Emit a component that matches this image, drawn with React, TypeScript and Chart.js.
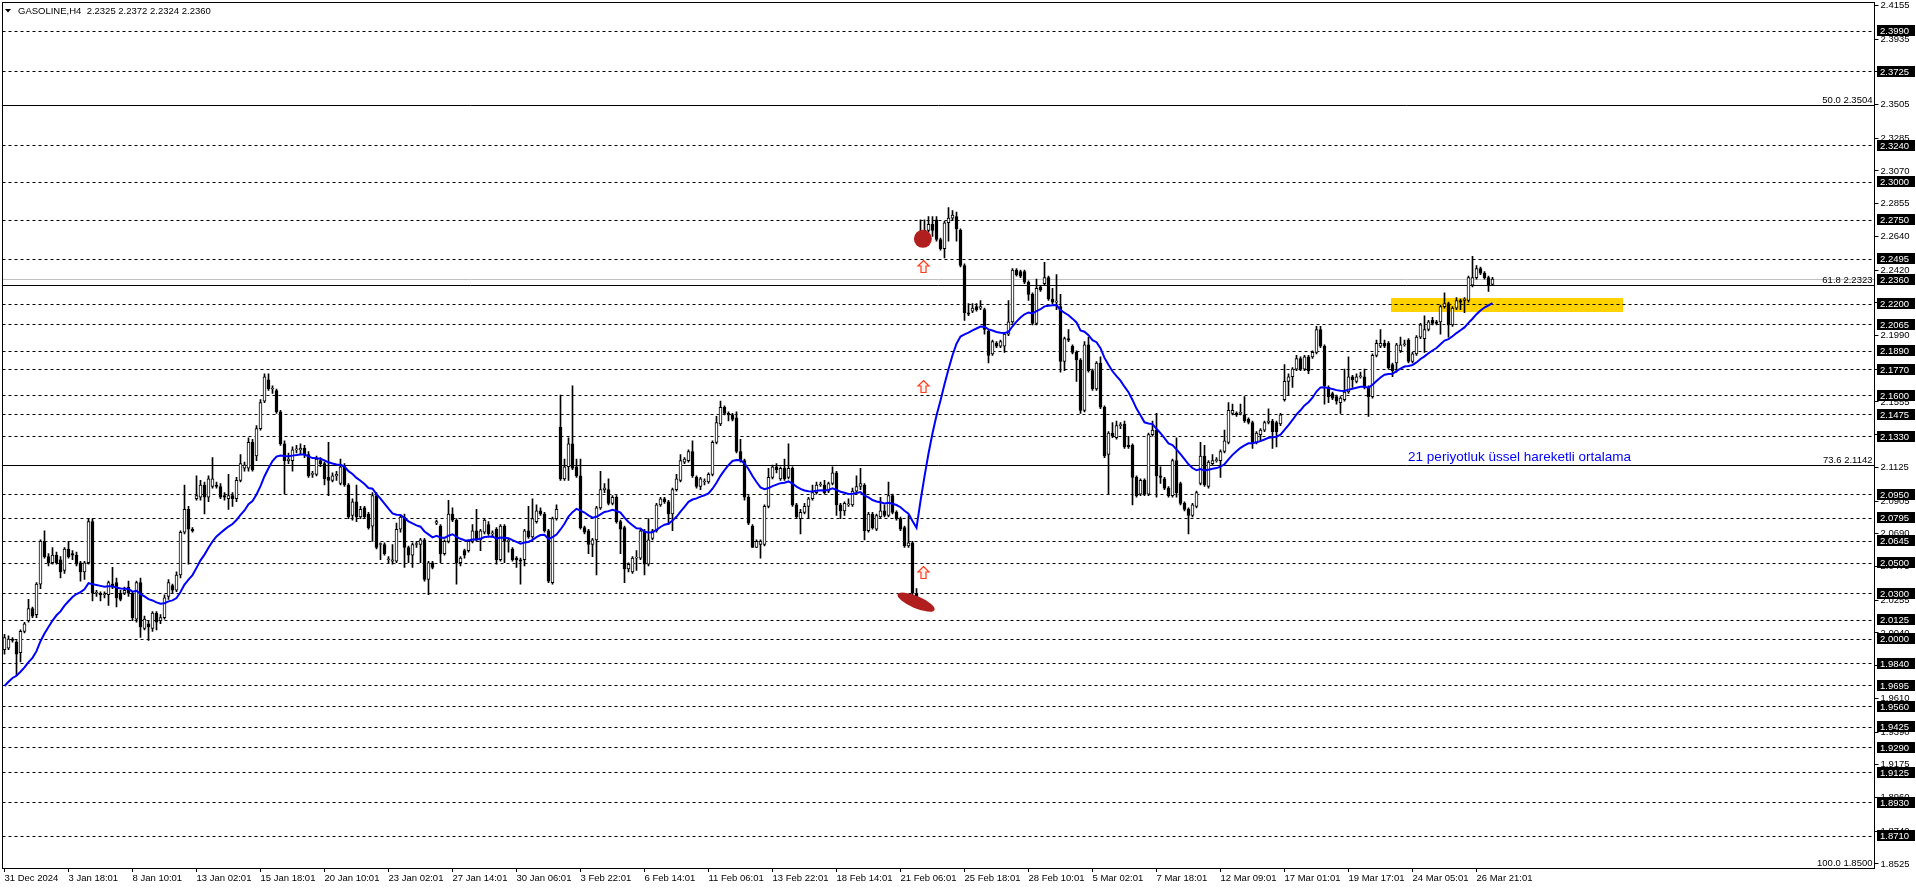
import { useEffect, useRef } from 'react';
import { Chart, registerables } from 'chart.js';

Chart.register(...registerables);

const SYMBOL_TITLE = 'GASOLINE,H4  2.2325 2.2372 2.2324 2.2360';

const OPEN = [
  1.993,1.994,2.000,1.998,1.991,2.005,2.012,2.020,2.016,2.036,
  2.064,2.054,2.050,2.055,2.052,2.045,2.059,2.056,2.055,2.050,
  2.044,2.050,2.077,2.030,2.030,2.029,2.029,2.036,2.037,2.030,
  2.030,2.034,2.030,2.013,2.037,2.007,2.010,2.007,2.017,2.012,
  2.014,2.028,2.035,2.032,2.042,2.070,2.085,2.072,2.092,2.093,
  2.101,2.093,2.100,2.101,2.100,2.094,2.092,2.094,2.092,2.104,
  2.112,2.112,2.129,2.120,2.138,2.156,2.170,2.164,2.163,2.149,
  2.128,2.117,2.117,2.124,2.124,2.125,2.121,2.108,2.108,2.117,
  2.115,2.106,2.104,2.107,2.102,2.113,2.101,2.081,2.090,2.080,
  2.086,2.082,2.074,2.094,2.062,2.062,2.052,2.051,2.051,2.072,
  2.080,2.060,2.055,2.062,2.062,2.065,2.039,2.050,2.076,2.074,
  2.056,2.064,2.082,2.078,2.050,2.058,2.058,2.064,2.071,2.065,
  2.070,2.075,2.069,2.072,2.052,2.074,2.064,2.059,2.053,2.052,
  2.052,2.071,2.067,2.077,2.084,2.082,2.071,2.037,2.079,2.139,
  2.105,2.113,2.128,2.113,2.107,2.073,2.071,2.062,2.065,2.086,
  2.098,2.098,2.089,2.093,2.077,2.073,2.046,2.044,2.053,2.053,
  2.071,2.049,2.066,2.071,2.088,2.092,2.090,2.082,2.098,2.104,
  2.116,2.117,2.123,2.106,2.100,2.103,2.103,2.108,2.129,2.141,
  2.152,2.148,2.147,2.145,2.123,2.117,2.093,2.074,2.060,2.062,
  2.062,2.087,2.106,2.113,2.105,2.112,2.106,2.112,2.088,2.079,
  2.083,2.087,2.092,2.096,2.101,2.101,2.097,2.102,2.109,2.088,
  2.084,2.088,2.088,2.097,2.100,2.101,2.071,2.082,2.072,2.080,
  2.084,2.081,2.094,2.083,2.079,2.073,2.061,2.063,2.030,2.264,
  2.263,2.268,2.272,2.275,2.262,2.256,2.273,2.276,2.277,2.268,
  2.245,2.214,2.215,2.218,2.217,2.216,2.202,2.187,2.194,2.192,
  2.192,2.200,2.208,2.242,2.241,2.241,2.234,2.226,2.207,2.231,
  2.233,2.237,2.223,2.221,2.218,2.182,2.197,2.192,2.188,2.183,
  2.150,2.193,2.176,2.164,2.181,2.152,2.121,2.135,2.132,2.140,
  2.141,2.127,2.127,2.106,2.095,2.104,2.095,2.134,2.137,2.107,
  2.105,2.099,2.094,2.117,2.102,2.089,2.085,2.081,2.087,2.102,
  2.120,2.100,2.115,2.117,2.117,2.123,2.129,2.148,2.148,2.148,
  2.147,2.144,2.142,2.129,2.134,2.137,2.142,2.143,2.142,2.141,
  2.157,2.169,2.172,2.177,2.184,2.177,2.185,2.185,2.188,2.203,
  2.192,2.165,2.161,2.159,2.155,2.157,2.162,2.172,2.169,2.172,
  2.172,2.165,2.159,2.186,2.192,2.194,2.194,2.180,2.181,2.189,
  2.193,2.196,2.182,2.187,2.198,2.197,2.203,2.209,2.208,2.208,
  2.218,2.220,2.206,2.217,2.222,2.222,2.222,2.232,2.237,2.243,
  2.240,2.237,2.2325,
];

const HIGH = [
  2.003,2.002,2.001,1.999,2.006,2.011,2.026,2.021,2.037,2.065,
  2.071,2.056,2.060,2.057,2.054,2.060,2.064,2.058,2.057,2.051,
  2.051,2.079,2.079,2.032,2.031,2.031,2.038,2.047,2.040,2.032,
  2.034,2.038,2.031,2.038,2.040,2.015,2.012,2.018,2.018,2.016,
  2.029,2.039,2.036,2.044,2.071,2.101,2.087,2.073,2.107,2.104,
  2.103,2.107,2.119,2.103,2.102,2.096,2.108,2.096,2.106,2.121,
  2.116,2.132,2.131,2.140,2.157,2.174,2.174,2.166,2.164,2.150,
  2.130,2.122,2.126,2.127,2.128,2.127,2.123,2.110,2.120,2.119,
  2.116,2.129,2.109,2.110,2.118,2.115,2.102,2.092,2.101,2.087,
  2.087,2.083,2.096,2.096,2.063,2.063,2.054,2.062,2.076,2.081,
  2.082,2.061,2.063,2.064,2.066,2.066,2.051,2.051,2.078,2.075,
  2.065,2.091,2.086,2.079,2.054,2.059,2.065,2.075,2.085,2.072,
  2.079,2.077,2.071,2.073,2.075,2.075,2.066,2.060,2.054,2.053,
  2.072,2.087,2.092,2.088,2.086,2.083,2.072,2.080,2.088,2.160,
  2.118,2.132,2.166,2.118,2.118,2.074,2.072,2.066,2.087,2.110,
  2.102,2.105,2.094,2.094,2.078,2.074,2.050,2.054,2.058,2.072,
  2.072,2.079,2.072,2.089,2.093,2.093,2.091,2.099,2.108,2.121,
  2.119,2.124,2.130,2.107,2.106,2.105,2.109,2.130,2.146,2.156,
  2.153,2.149,2.148,2.149,2.131,2.118,2.094,2.075,2.065,2.065,
  2.088,2.112,2.114,2.115,2.113,2.118,2.128,2.113,2.089,2.085,
  2.089,2.093,2.101,2.103,2.103,2.104,2.103,2.113,2.110,2.089,
  2.090,2.092,2.099,2.107,2.112,2.102,2.083,2.083,2.082,2.093,
  2.088,2.103,2.095,2.084,2.080,2.074,2.081,2.064,2.033,2.275,
  2.275,2.277,2.277,2.277,2.263,2.274,2.283,2.281,2.280,2.269,
  2.246,2.220,2.220,2.220,2.222,2.217,2.203,2.196,2.195,2.196,
  2.201,2.222,2.243,2.243,2.242,2.242,2.235,2.227,2.236,2.232,
  2.247,2.238,2.230,2.239,2.226,2.198,2.203,2.193,2.189,2.184,
  2.195,2.198,2.177,2.182,2.185,2.153,2.136,2.142,2.143,2.142,
  2.143,2.133,2.128,2.107,2.105,2.105,2.135,2.143,2.148,2.113,
  2.106,2.100,2.118,2.132,2.103,2.090,2.086,2.089,2.097,2.129,
  2.127,2.117,2.121,2.119,2.124,2.137,2.155,2.154,2.149,2.154,
  2.159,2.145,2.143,2.136,2.138,2.143,2.151,2.144,2.143,2.148,
  2.180,2.174,2.178,2.186,2.185,2.186,2.186,2.189,2.205,2.205,
  2.193,2.166,2.162,2.160,2.159,2.177,2.185,2.173,2.174,2.175,
  2.177,2.166,2.187,2.196,2.203,2.196,2.195,2.181,2.194,2.198,
  2.196,2.197,2.188,2.199,2.207,2.212,2.209,2.211,2.209,2.219,
  2.227,2.221,2.218,2.224,2.223,2.224,2.238,2.251,2.245,2.244,
  2.241,2.238,2.2372,
];

const LOW = [
  1.990,1.993,1.998,1.976,1.985,2.004,2.011,2.014,2.014,2.033,
  2.053,2.048,2.049,2.049,2.040,2.043,2.053,2.052,2.048,2.038,
  2.039,2.049,2.025,2.028,2.025,2.027,2.022,2.033,2.021,2.025,
  2.029,2.028,2.012,2.011,2.001,2.006,1.999,2.005,2.006,2.010,
  2.013,2.026,2.030,2.031,2.040,2.069,2.049,2.070,2.091,2.091,
  2.082,2.090,2.099,2.099,2.092,2.091,2.085,2.087,2.090,2.103,
  2.110,2.110,2.110,2.117,2.137,2.155,2.163,2.161,2.148,2.127,
  2.095,2.115,2.110,2.122,2.121,2.119,2.106,2.106,2.107,2.113,
  2.101,2.094,2.103,2.104,2.101,2.100,2.079,2.078,2.077,2.079,
  2.079,2.072,2.064,2.059,2.052,2.055,2.050,2.049,2.050,2.070,
  2.047,2.050,2.047,2.060,2.050,2.038,2.029,2.046,2.075,2.050,
  2.055,2.063,2.077,2.036,2.048,2.053,2.057,2.063,2.064,2.058,
  2.069,2.068,2.067,2.049,2.051,2.050,2.057,2.051,2.047,2.036,
  2.048,2.066,2.066,2.076,2.081,2.070,2.037,2.036,2.078,2.104,
  2.104,2.104,2.111,2.106,2.072,2.069,2.056,2.054,2.042,2.085,
  2.096,2.088,2.088,2.076,2.056,2.037,2.044,2.043,2.045,2.052,
  2.042,2.048,2.065,2.070,2.087,2.089,2.075,2.071,2.097,2.103,
  2.115,2.116,2.106,2.099,2.098,2.101,2.102,2.107,2.128,2.140,
  2.147,2.143,2.143,2.122,2.116,2.091,2.075,2.060,2.060,2.053,
  2.061,2.086,2.105,2.109,2.104,2.104,2.105,2.087,2.079,2.069,
  2.082,2.079,2.091,2.095,2.100,2.095,2.096,2.101,2.081,2.079,
  2.081,2.087,2.087,2.096,2.098,2.065,2.070,2.072,2.071,2.079,
  2.080,2.080,2.082,2.078,2.071,2.060,2.060,2.026,2.022,2.262,
  2.262,2.267,2.264,2.261,2.255,2.250,2.261,2.275,2.261,2.244,
  2.209,2.212,2.214,2.215,2.216,2.200,2.181,2.186,2.191,2.191,
  2.188,2.199,2.207,2.238,2.237,2.233,2.222,2.206,2.206,2.228,
  2.232,2.222,2.220,2.216,2.175,2.176,2.195,2.187,2.169,2.148,
  2.149,2.175,2.163,2.163,2.151,2.119,2.095,2.132,2.131,2.138,
  2.125,2.125,2.088,2.093,2.094,2.094,2.094,2.133,2.093,2.102,
  2.098,2.093,2.093,2.093,2.088,2.084,2.069,2.080,2.086,2.101,
  2.100,2.099,2.114,2.116,2.106,2.122,2.128,2.147,2.146,2.147,
  2.142,2.141,2.125,2.128,2.130,2.136,2.141,2.125,2.126,2.140,
  2.156,2.160,2.165,2.176,2.176,2.176,2.174,2.184,2.187,2.191,
  2.154,2.155,2.157,2.154,2.148,2.156,2.161,2.165,2.168,2.171,
  2.164,2.146,2.158,2.185,2.191,2.191,2.177,2.172,2.175,2.188,
  2.192,2.181,2.181,2.186,2.197,2.188,2.202,2.206,2.206,2.200,
  2.217,2.198,2.205,2.216,2.216,2.214,2.221,2.231,2.236,2.239,
  2.236,2.228,2.2324,
];

const CLOSE = [
  2.001,2.000,1.999,1.990,2.005,2.010,2.020,2.015,2.036,2.064,
  2.054,2.050,2.055,2.050,2.044,2.059,2.054,2.055,2.049,2.044,
  2.050,2.077,2.030,2.030,2.029,2.029,2.037,2.034,2.027,2.026,
  2.032,2.030,2.014,2.037,2.008,2.013,2.008,2.017,2.011,2.014,
  2.027,2.037,2.032,2.042,2.070,2.085,2.072,2.071,2.094,2.101,
  2.093,2.105,2.105,2.100,2.093,2.093,2.094,2.092,2.104,2.115,
  2.114,2.129,2.111,2.138,2.155,2.172,2.164,2.164,2.149,2.128,
  2.117,2.118,2.124,2.124,2.125,2.121,2.107,2.108,2.118,2.115,
  2.105,2.104,2.107,2.108,2.113,2.101,2.080,2.090,2.080,2.085,
  2.080,2.073,2.094,2.060,2.062,2.056,2.052,2.052,2.072,2.080,
  2.060,2.055,2.062,2.062,2.065,2.039,2.050,2.047,2.077,2.056,
  2.064,2.082,2.078,2.050,2.053,2.055,2.064,2.071,2.065,2.071,
  2.078,2.069,2.069,2.052,2.074,2.064,2.064,2.052,2.052,2.051,
  2.071,2.067,2.079,2.084,2.082,2.071,2.038,2.079,2.085,2.105,
  2.113,2.128,2.112,2.107,2.073,2.070,2.062,2.065,2.086,2.098,
  2.099,2.089,2.093,2.077,2.072,2.046,2.049,2.053,2.053,2.071,
  2.049,2.065,2.071,2.088,2.092,2.090,2.082,2.098,2.105,2.117,
  2.118,2.123,2.107,2.100,2.105,2.103,2.108,2.129,2.142,2.152,
  2.148,2.147,2.144,2.123,2.117,2.093,2.076,2.060,2.064,2.064,
  2.087,2.106,2.113,2.111,2.112,2.105,2.112,2.088,2.080,2.083,
  2.087,2.092,2.096,2.101,2.101,2.096,2.102,2.109,2.088,2.084,
  2.089,2.088,2.097,2.100,2.102,2.071,2.082,2.073,2.081,2.084,
  2.081,2.094,2.083,2.079,2.072,2.061,2.063,2.030,2.028,2.266,
  2.268,2.272,2.268,2.262,2.256,2.273,2.276,2.278,2.269,2.245,
  2.214,2.213,2.217,2.216,2.218,2.203,2.186,2.195,2.192,2.195,
  2.200,2.208,2.242,2.239,2.238,2.234,2.226,2.207,2.230,2.229,
  2.237,2.223,2.221,2.221,2.182,2.197,2.196,2.188,2.183,2.150,
  2.193,2.176,2.164,2.181,2.152,2.120,2.135,2.133,2.140,2.140,
  2.126,2.126,2.106,2.094,2.104,2.095,2.134,2.137,2.107,2.106,
  2.099,2.094,2.117,2.096,2.089,2.085,2.081,2.088,2.096,2.120,
  2.101,2.116,2.117,2.117,2.123,2.130,2.150,2.150,2.147,2.148,
  2.143,2.142,2.129,2.135,2.137,2.142,2.143,2.136,2.136,2.147,
  2.169,2.172,2.177,2.184,2.177,2.185,2.176,2.188,2.203,2.192,
  2.166,2.159,2.158,2.156,2.158,2.162,2.172,2.170,2.172,2.172,
  2.165,2.159,2.186,2.194,2.194,2.192,2.178,2.176,2.193,2.193,
  2.193,2.182,2.187,2.198,2.206,2.203,2.208,2.207,2.207,2.218,
  2.220,2.206,2.217,2.222,2.221,2.223,2.237,2.237,2.243,2.240,
  2.237,2.232,2.2360,
];

const TIME_LABELS = [
  '31 Dec 2024', '3 Jan 18:01', '8 Jan 10:01', '13 Jan 02:01', '15 Jan 18:01',
  '20 Jan 10:01', '23 Jan 02:01', '27 Jan 14:01', '30 Jan 06:01', '3 Feb 22:01',
  '6 Feb 14:01', '11 Feb 06:01', '13 Feb 22:01', '18 Feb 14:01', '21 Feb 06:01',
  '25 Feb 18:01', '28 Feb 10:01', '5 Mar 02:01', '7 Mar 18:01', '12 Mar 09:01',
  '17 Mar 01:01', '19 Mar 17:01', '24 Mar 05:01', '26 Mar 21:01',
];
const LABEL_EVERY = 16;

const PRICE_TICKS = [
  2.4155, 2.3935, 2.372, 2.3505, 2.3285, 2.307, 2.2855, 2.264, 2.242, 2.2205,
  2.199, 2.177, 2.1555, 2.134, 2.1125, 2.0905, 2.069, 2.0475, 2.0255, 2.004,
  1.9825, 1.961, 1.939, 1.9175, 1.896, 1.874, 1.8525,
];

const DASHED_LEVELS = [
  2.399, 2.3725, 2.324, 2.3, 2.275, 2.2495, 2.22, 2.2065, 2.189, 2.177,
  2.16, 2.1475, 2.133, 2.095, 2.0795, 2.0645, 2.05, 2.03, 2.0125, 2.0,
  1.984, 1.9695, 1.956, 1.9425, 1.929, 1.9125, 1.893, 1.871,
];
const BID_PRICE = 2.236;

const FIB_NAMES = ['50.0', '61.8', '73.6', '100.0'];
const FIB_PRICES = [2.3504, 2.2323, 2.1142, 1.85];

const EMA_PERIOD = 21;
const EMA_START = 1.966;
const EMA_NOTE = '21 periyotluk üssel hareketli ortalama';
const NOTE_BAR = 350.9;
const NOTE_PRICE = 2.1168;

const ZONE_BARS = [346.6, 404.6];
const ZONE_PRICES = [2.2235, 2.2147];

const ARROW_BAR = 229.6;
const ARROW_PRICES = [2.2444, 2.1659, 2.0439];
const DOT_BAR = 229.6;
const DOT_PRICE = 2.2625;
const BLOB_BAR = 227.9;
const BLOB_PRICE = 2.0242;

const Y_MIN = 1.8498;
const Y_MAX = 2.4178;
const SLOTS = 468;

const FONT = '"Liberation Sans", Arial, sans-serif';

function drawUpArrow(ctx: CanvasRenderingContext2D, cx: number, cy: number) {
  ctx.beginPath();
  ctx.moveTo(cx, cy - 6);
  ctx.lineTo(cx + 5.5, cy - 0.5);
  ctx.lineTo(cx + 2.5, cy - 0.5);
  ctx.lineTo(cx + 2.5, cy + 6);
  ctx.lineTo(cx - 2.5, cy + 6);
  ctx.lineTo(cx - 2.5, cy - 0.5);
  ctx.lineTo(cx - 5.5, cy - 0.5);
  ctx.closePath();
  ctx.fillStyle = '#fff2ea';
  ctx.fill();
  ctx.strokeStyle = '#ff3a1c';
  ctx.lineWidth = 1.2;
  ctx.stroke();
}

const mt4Plugin = {
  id: 'mt4Overlay',
  beforeDraw(chart: any) {
    const ctx = chart.ctx;
    ctx.save();
    ctx.fillStyle = '#ffffff';
    ctx.fillRect(0, 0, chart.width, chart.height);
    ctx.restore();
  },
  beforeDatasetsDraw(chart: any) {
    const { ctx, chartArea: a, scales } = chart;
    const x = scales.x;
    const y = scales.y;
    ctx.save();
    ctx.beginPath();
    ctx.rect(a.left, a.top, a.right - a.left, a.bottom - a.top);
    ctx.clip();

    // support zone rectangle
    const zx1 = Math.round(x.getPixelForValue(ZONE_BARS[0]));
    const zx2 = Math.round(x.getPixelForValue(ZONE_BARS[1]));
    const zy1 = Math.round(y.getPixelForValue(ZONE_PRICES[0]));
    const zy2 = Math.round(y.getPixelForValue(ZONE_PRICES[1]));
    ctx.fillStyle = '#ffd200';
    ctx.fillRect(zx1, zy1, zx2 - zx1, zy2 - zy1);

    // dashed horizontal levels
    ctx.strokeStyle = '#000';
    ctx.lineWidth = 1;
    ctx.setLineDash([3, 3]);
    for (const p of DASHED_LEVELS) {
      const py = Math.round(y.getPixelForValue(p)) + 0.5;
      ctx.beginPath();
      ctx.moveTo(a.left, py);
      ctx.lineTo(a.right, py);
      ctx.stroke();
    }
    ctx.setLineDash([]);

    // bid line
    const by = Math.round(y.getPixelForValue(BID_PRICE)) + 0.5;
    ctx.strokeStyle = '#c0c0c0';
    ctx.beginPath();
    ctx.moveTo(a.left, by);
    ctx.lineTo(a.right, by);
    ctx.stroke();

    // fibo lines
    ctx.strokeStyle = '#000';
    for (const p of FIB_PRICES) {
      const py = Math.round(y.getPixelForValue(p)) + 0.5;
      ctx.beginPath();
      ctx.moveTo(a.left, py);
      ctx.lineTo(a.right, py);
      ctx.stroke();
    }
    ctx.restore();
  },
  afterDatasetsDraw(chart: any) {
    const { ctx, chartArea: a, scales } = chart;
    const x = scales.x;
    const y = scales.y;
    ctx.save();
    ctx.beginPath();
    ctx.rect(a.left, a.top, a.right - a.left, a.bottom - a.top);
    ctx.clip();

    // red marks
    ctx.fillStyle = '#b01e1e';
    ctx.beginPath();
    ctx.ellipse(x.getPixelForValue(DOT_BAR), y.getPixelForValue(DOT_PRICE), 9, 9, 0, 0, Math.PI * 2);
    ctx.fill();
    ctx.beginPath();
    ctx.ellipse(x.getPixelForValue(BLOB_BAR), y.getPixelForValue(BLOB_PRICE), 20, 6, 0.4, 0, Math.PI * 2);
    ctx.fill();

    const ax = Math.round(x.getPixelForValue(ARROW_BAR)) + 0.5;
    for (const p of ARROW_PRICES) {
      drawUpArrow(ctx, ax, Math.round(y.getPixelForValue(p)) + 0.5);
    }

    // EMA note
    ctx.font = `13.5px ${FONT}`;
    ctx.fillStyle = '#0000ff';
    ctx.textAlign = 'left';
    ctx.textBaseline = 'alphabetic';
    ctx.fillText(EMA_NOTE, x.getPixelForValue(NOTE_BAR), y.getPixelForValue(NOTE_PRICE));

    // fibo labels
    ctx.font = `9.5px ${FONT}`;
    ctx.fillStyle = '#000';
    ctx.textAlign = 'right';
    for (let i = 0; i < FIB_PRICES.length; i++) {
      const py = Math.round(y.getPixelForValue(FIB_PRICES[i]));
      ctx.fillText(`${FIB_NAMES[i]} ${FIB_PRICES[i].toFixed(4)}`, a.right - 2, py - 2);
    }
    ctx.restore();
  },
  afterDraw(chart: any) {
    const { ctx, chartArea: a, scales } = chart;
    const y = scales.y;
    ctx.save();
    // frame
    ctx.strokeStyle = '#000';
    ctx.lineWidth = 1;
    ctx.strokeRect(Math.floor(a.left) + 0.5, Math.floor(a.top) + 0.5,
      Math.round(a.right - a.left), Math.round(a.bottom - a.top));

    // black price boxes
    ctx.font = `9.5px ${FONT}`;
    ctx.textAlign = 'left';
    ctx.textBaseline = 'middle';
    const boxes = [...DASHED_LEVELS, BID_PRICE];
    for (const p of boxes) {
      const py = y.getPixelForValue(p);
      const top = Math.round(py - 5.5);
      ctx.fillStyle = '#000';
      ctx.fillRect(Math.round(a.right) + 2, top, 38, 11);
      ctx.fillStyle = '#fff';
      ctx.fillText(p.toFixed(4), Math.round(a.right) + 5, top + 6);
    }

    // title
    ctx.fillStyle = '#000';
    ctx.beginPath();
    ctx.moveTo(5, 9);
    ctx.lineTo(11, 9);
    ctx.lineTo(8, 12.5);
    ctx.closePath();
    ctx.fill();
    ctx.textBaseline = 'alphabetic';
    ctx.fillText(SYMBOL_TITLE, 18, 13.5);
    ctx.restore();
  },
};

export default function App() {
  const canvasRef = useRef<HTMLCanvasElement>(null);

  useEffect(() => {
    const canvas = canvasRef.current;
    if (!canvas) return;
    const n = CLOSE.length;
    const labels = Array.from({ length: SLOTS }, (_, i) => i);
    const wicks = labels.map((i) => (i < n ? [LOW[i], HIGH[i]] : null));
    const bodies = labels.map((i) => (i < n ? [OPEN[i], CLOSE[i]] : null));
    const bodyFill = labels.map((i) => (i < n && CLOSE[i] < OPEN[i] ? '#000000' : '#ffffff'));

    const k = 2 / (EMA_PERIOD + 1);
    let prev = EMA_START;
    const ema: (number | null)[] = labels.map((i) => {
      if (i >= n) return null;
      prev = prev + k * (CLOSE[i] - prev);
      return prev;
    });

    const chart = new Chart(canvas, {
      type: 'bar',
      data: {
        labels,
        datasets: [
          {
            type: 'line',
            data: ema as any,
            borderColor: '#0000ff',
            borderWidth: 2,
            pointRadius: 0,
            tension: 0,
            fill: false,
            order: 0,
          } as any,
          {
            type: 'bar',
            data: bodies as any,
            backgroundColor: bodyFill,
            borderColor: '#000000',
            borderWidth: 1,
            borderSkipped: false,
            barThickness: 3,
            grouped: false,
            minBarLength: 1,
            order: 1,
          } as any,
          {
            type: 'bar',
            data: wicks as any,
            backgroundColor: '#000000',
            borderWidth: 0,
            barThickness: 1,
            grouped: false,
            minBarLength: 1,
            order: 2,
          } as any,
        ],
      },
      options: {
        animation: false,
        responsive: false,
        devicePixelRatio: 1,
        events: [],
        layout: { padding: { left: 2.5, top: 2, right: 0, bottom: 0 } },
        plugins: { legend: { display: false }, tooltip: { enabled: false } },
        scales: {
          x: {
            type: 'category',
            offset: true,
            afterFit: (s: any) => {
              s.height = 20;
              s.paddingLeft = 0;
              s.paddingRight = 0;
            },
            border: { display: false },
            grid: { drawOnChartArea: false, offset: false, tickLength: 4, color: '#000' },
            ticks: {
              autoSkip: false,
              maxRotation: 0,
              minRotation: 0,
              align: 'start',
              padding: 1,
              color: '#000',
              font: { family: FONT, size: 9.5 },
              callback: (_v: any, i: number) =>
                i % LABEL_EVERY === 0 && i / LABEL_EVERY < TIME_LABELS.length
                  ? TIME_LABELS[i / LABEL_EVERY]
                  : null,
            },
          },
          y: {
            position: 'right',
            min: Y_MIN,
            max: Y_MAX,
            afterBuildTicks: (s: any) => { s.ticks = PRICE_TICKS.map((v) => ({ value: v })); },
            afterFit: (s: any) => {
              s.width = 41.5;
              s.paddingTop = 0;
              s.paddingBottom = 0;
            },
            border: { display: false },
            grid: { drawOnChartArea: false, tickLength: 4, color: '#000' },
            ticks: {
              autoSkip: false,
              padding: 2,
              color: '#000',
              font: { family: FONT, size: 9.5 },
              callback: (v: any) => Number(v).toFixed(4),
            },
          },
        },
      } as any,
      plugins: [mt4Plugin],
    });

    return () => chart.destroy();
  }, []);

  return (
    <div style={{ position: 'absolute', left: 0, top: 0, width: 1916, height: 888, background: '#fff' }}>
      <canvas ref={canvasRef} width={1916} height={888} style={{ display: 'block' }} />
    </div>
  );
}
